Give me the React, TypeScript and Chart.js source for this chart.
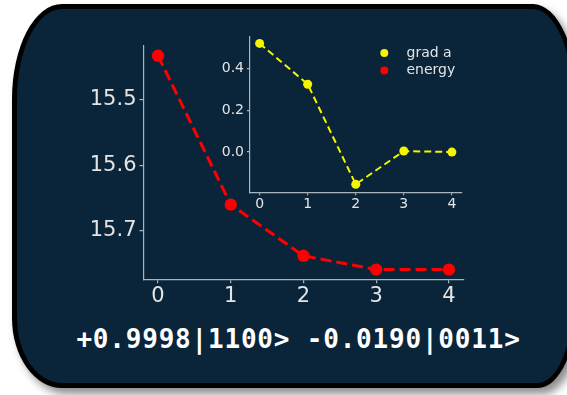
import React, { useEffect, useRef } from "react";
import { Chart, registerables } from "chart.js";

Chart.register(...registerables);

// ---- data ----
const iterations = [0, 1, 2, 3, 4];
const energyValues = [15.433, 15.66, 15.738, 15.759, 15.759];
const gradValues = [0.522, 0.326, -0.155, 0.005, 0.0];
const xTicks = [0, 1, 2, 3, 4];
const mainYTicks = [15.5, 15.6, 15.7];
const insetYTicks = [0.0, 0.2, 0.4];
const legendLabels = ["grad a", "energy"];
const stateText = "+0.9998|1100> -0.0190|0011>";

// ---- style ----
const BG = "#0a2539";
const RED = "#ff0000";
const YELLOW = "#f5f500";
const AXIS = "#a9b5bd";
const TICK_TEXT = "#e4e4e4";
const FONT = "'DejaVu Sans', sans-serif";

const MAIN_W = 400;
const MAIN_H = 290;
const INSET_W = 260;
const INSET_H = 200;

function buildAxis(opts: any) {
  const { ticks, fontSize, fmt, tickLength, padding, fit, min, max, reverse } = opts;
  return {
    type: "linear",
    min,
    max,
    reverse: !!reverse,
    afterBuildTicks: (s: any) => {
      s.ticks = ticks.map((v: number) => ({ value: v }));
    },
    afterFit: fit,
    ticks: {
      color: TICK_TEXT,
      font: { family: FONT, size: fontSize },
      padding,
      autoSkip: false,
      maxRotation: 0,
      callback: (v: any) => fmt(Number(v)),
    },
    grid: {
      display: true,
      drawOnChartArea: false,
      drawTicks: true,
      tickLength,
      color: AXIS,
      lineWidth: 1.2,
    },
    border: { display: true, color: AXIS, width: 1.2 },
  };
}

const insetLegend = {
  id: "insetLegend",
  afterDraw(chart: any) {
    const ctx = chart.ctx;
    const area = chart.chartArea;
    const colors = [YELLOW, RED];
    ctx.save();
    legendLabels.forEach((label, i) => {
      const y = area.top + 16.7 + i * 17.3;
      const mx = area.right - 77.2;
      ctx.beginPath();
      ctx.arc(mx, y, 4, 0, Math.PI * 2);
      ctx.fillStyle = colors[i];
      ctx.fill();
      ctx.fillStyle = TICK_TEXT;
      ctx.font = `14px ${FONT}`;
      ctx.textBaseline = "middle";
      ctx.textAlign = "left";
      ctx.fillText(label, area.right - 55, y);
    });
    ctx.restore();
  },
};

export default function App() {
  const mainRef = useRef<HTMLCanvasElement>(null);
  const insetRef = useRef<HTMLCanvasElement>(null);

  useEffect(() => {
    const main = new Chart(mainRef.current as HTMLCanvasElement, {
      type: "line",
      data: {
        datasets: [
          {
            label: "energy",
            data: iterations.map((x, i) => ({ x, y: energyValues[i] })),
            borderColor: RED,
            backgroundColor: RED,
            borderWidth: 3,
            borderDash: [11, 5],
            pointRadius: 6.2,
            pointBorderWidth: 0,
            pointBackgroundColor: RED,
            tension: 0,
            clip: false,
          } as any,
        ],
      },
      options: {
        animation: false,
        responsive: false,
        events: [],
        layout: { padding: { top: 12, right: 16.5, left: 0, bottom: 0 } },
        plugins: { legend: { display: false }, tooltip: { enabled: false } },
        scales: {
          x: buildAxis({
            ticks: xTicks,
            min: -0.2,
            max: 4.2,
            fontSize: 21,
            fmt: (v: number) => String(v),
            tickLength: 4,
            padding: 1,
            fit: (s: any) => {
              s.height = 40.7;
            },
          }),
          y: buildAxis({
            ticks: mainYTicks,
            min: 15.4175,
            max: 15.7738,
            reverse: true,
            fontSize: 21,
            fmt: (v: number) => v.toFixed(1),
            tickLength: 4,
            padding: 3,
            fit: (s: any) => {
              s.width = 63.5;
            },
          }),
        } as any,
      },
    });

    const inset = new Chart(insetRef.current as HTMLCanvasElement, {
      type: "line",
      data: {
        datasets: [
          {
            label: "grad a",
            data: iterations.map((x, i) => ({ x, y: gradValues[i] })),
            borderColor: YELLOW,
            backgroundColor: YELLOW,
            borderWidth: 2,
            borderDash: [7, 4],
            pointRadius: 4.5,
            pointBorderWidth: 0,
            pointBackgroundColor: YELLOW,
            tension: 0,
            clip: false,
          } as any,
        ],
      },
      options: {
        animation: false,
        responsive: false,
        events: [],
        layout: { padding: { top: 10, right: 8.5, left: 0, bottom: 0 } },
        plugins: { legend: { display: false }, tooltip: { enabled: false } },
        scales: {
          x: buildAxis({
            ticks: xTicks,
            min: -0.2,
            max: 4.2,
            fontSize: 14,
            fmt: (v: number) => String(v),
            tickLength: 3,
            padding: 1,
            fit: (s: any) => {
              s.height = 32.7;
            },
          }),
          y: buildAxis({
            ticks: insetYTicks,
            min: -0.1933,
            max: 0.5557,
            fontSize: 14,
            fmt: (v: number) => v.toFixed(1),
            tickLength: 3,
            padding: 3,
            fit: (s: any) => {
              s.width = 40;
            },
          }),
        } as any,
      },
      plugins: [insetLegend],
    });

    return () => {
      main.destroy();
      inset.destroy();
    };
  }, []);

  return (
    <div
      style={{
        position: "fixed",
        left: 0,
        top: 0,
        width: 567,
        height: 395,
        background: "#ffffff",
        overflow: "hidden",
      }}
    >
      <div
        style={{
          position: "absolute",
          left: 12,
          top: 4,
          width: 566,
          height: 384,
          boxSizing: "border-box",
          border: "5px solid #000",
          background: BG,
          borderRadius: "50px 45px 40px 50px / 95px 100px 90px 70px",
          boxShadow: "5px 6px 8px rgba(0,0,0,0.45)",
        }}
      />
      <canvas
        ref={mainRef}
        width={MAIN_W}
        height={MAIN_H}
        style={{ position: "absolute", left: 80, top: 30, width: MAIN_W, height: MAIN_H }}
      />
      <canvas
        ref={insetRef}
        width={INSET_W}
        height={INSET_H}
        style={{ position: "absolute", left: 210, top: 25, width: INSET_W, height: INSET_H }}
      />
      <div
        style={{
          position: "absolute",
          left: 0,
          top: 326,
          width: 597,
          textAlign: "center",
          fontFamily: "'DejaVu Sans Mono', monospace",
          fontWeight: "bold",
          fontSize: 26,
          lineHeight: "26px",
          letterSpacing: "0.8px",
          color: "#ffffff",
          whiteSpace: "pre",
        }}
      >
        {stateText}
      </div>
    </div>
  );
}
